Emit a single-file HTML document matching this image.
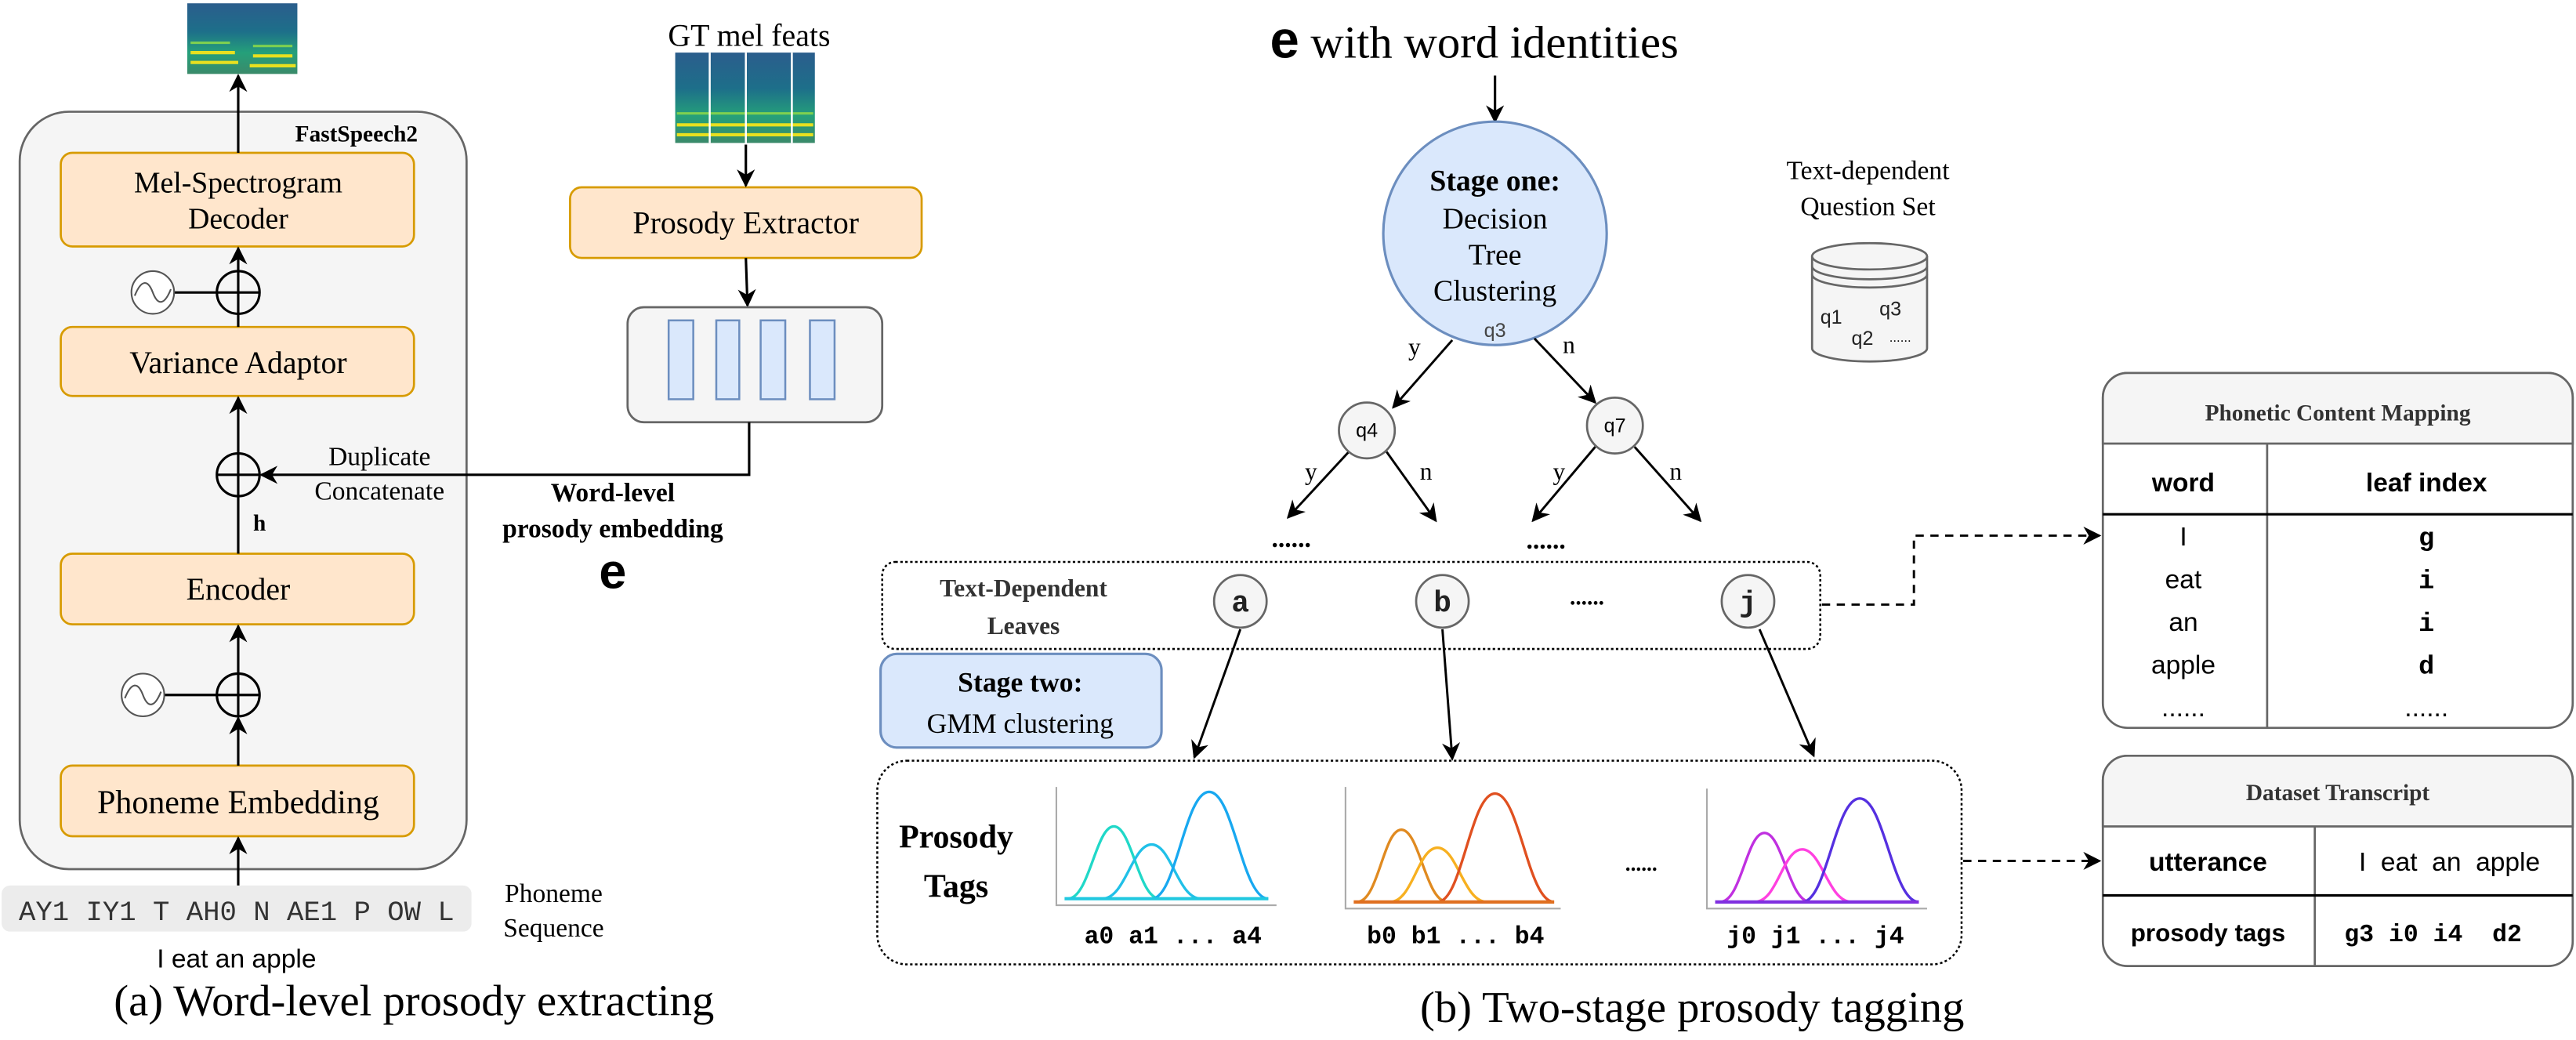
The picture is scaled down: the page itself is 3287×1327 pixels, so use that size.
<!DOCTYPE html>
<html><head><meta charset="utf-8"><style>
html,body{margin:0;padding:0;background:#fff;}
svg{display:block;}
.serif{font-family:"Liberation Serif",serif;}
.sans{font-family:"Liberation Sans",sans-serif;}
.mono{font-family:"Liberation Mono",monospace;}
</style></head><body>
<svg width="3287" height="1327" viewBox="0 0 1568 633" xmlns="http://www.w3.org/2000/svg">
<defs>
<marker id="ah2" viewBox="0 0 10 10" refX="9" refY="5" markerWidth="11" markerHeight="11" orient="auto" markerUnits="userSpaceOnUse">
<path d="M0,0 L10,5 L0,10 L3,5 Z" fill="#000"/></marker>
<linearGradient id="spec" x1="0" y1="0" x2="0" y2="1">
<stop offset="0" stop-color="#2b5d8c"/><stop offset="0.4" stop-color="#1d6f8a"/><stop offset="0.7" stop-color="#25a07a"/><stop offset="1" stop-color="#3a8a6a"/></linearGradient>
</defs>

<!-- ===== Part (a) ===== -->
<rect x="114" y="2" width="67" height="43" fill="url(#spec)"/>
<g stroke="#e8e020" stroke-width="2"><line x1="116" y1="38" x2="145" y2="38"/><line x1="116" y1="32" x2="143" y2="32"/><line x1="152" y1="40" x2="180" y2="40"/><line x1="154" y1="34" x2="178" y2="34"/></g>
<g stroke="#7ed050" stroke-width="1.5"><line x1="116" y1="26" x2="140" y2="26"/><line x1="154" y1="28" x2="178" y2="28"/></g>

<rect x="12" y="68" width="272" height="461" rx="30" fill="#f5f5f5" stroke="#666" stroke-width="1.3"/>
<text x="217" y="86" class="serif" font-size="14" font-weight="bold" text-anchor="middle">FastSpeech2</text>

<g fill="#ffe6cc" stroke="#d79b00" stroke-width="1.3">
<rect x="37" y="93" width="215" height="57" rx="7"/>
<rect x="37" y="199" width="215" height="42" rx="7"/>
<rect x="37" y="337" width="215" height="43" rx="7"/>
<rect x="37" y="466" width="215" height="43" rx="7"/>
</g>
<g class="serif" font-size="18" text-anchor="middle">
<text x="145" y="117">Mel-Spectrogram</text>
<text x="145" y="139">Decoder</text>
<text x="145" y="227" font-size="19">Variance Adaptor</text>
<text x="145" y="365" font-size="19">Encoder</text>
<text x="145" y="495" font-size="20">Phoneme Embedding</text>
</g>

<g stroke="#000" stroke-width="1.5" fill="none">
<line x1="145" y1="93" x2="145" y2="46" marker-end="url(#ah2)"/>
<line x1="145" y1="199" x2="145" y2="151" marker-end="url(#ah2)"/>
<line x1="145" y1="337" x2="145" y2="242" marker-end="url(#ah2)"/>
<line x1="145" y1="410" x2="145" y2="381" marker-end="url(#ah2)"/>
<line x1="145" y1="466" x2="145" y2="437" marker-end="url(#ah2)"/>
<line x1="145" y1="539" x2="145" y2="510" marker-end="url(#ah2)"/>
<circle cx="145" cy="178" r="13"/><line x1="132" y1="178" x2="158" y2="178"/>
<circle cx="145" cy="289" r="13"/><line x1="132" y1="289" x2="158" y2="289"/>
<circle cx="145" cy="423" r="13"/><line x1="132" y1="423" x2="158" y2="423"/><line x1="145" y1="410" x2="145" y2="436"/>
<line x1="106" y1="178" x2="132" y2="178"/>
<line x1="100" y1="423" x2="132" y2="423"/>
</g>
<g stroke="#555" stroke-width="1" fill="#fff">
<circle cx="93" cy="178" r="13"/><circle cx="87" cy="423" r="13"/>
</g>
<g stroke="#555" stroke-width="1" fill="none">
<path d="M82,180 C86,170 90,170 93,178 C96,186 100,186 104,176"/>
<path d="M76,425 C80,415 84,415 87,423 C90,431 94,431 98,421"/>
</g>

<rect x="1" y="539" width="286" height="28" rx="5" fill="#ececec"/>
<text x="144" y="560" class="mono" font-size="17" fill="#333" text-anchor="middle">AY1 IY1 T AH0 N AE1 P OW L</text>
<text x="144" y="589" class="sans" font-size="16" text-anchor="middle">I eat an apple</text>
<text x="337" y="549" class="serif" font-size="16" text-anchor="middle">Phoneme</text>
<text x="337" y="570" class="serif" font-size="16" text-anchor="middle">Sequence</text>
<text x="252" y="618" class="serif" font-size="27" text-anchor="middle">(a) Word-level prosody extracting</text>

<text x="456" y="28" class="serif" font-size="19" text-anchor="middle">GT mel feats</text>
<rect x="411" y="32" width="85" height="55" fill="url(#spec)"/>
<g stroke="#e8e020" stroke-width="2"><line x1="412" y1="82" x2="495" y2="82"/><line x1="412" y1="76" x2="495" y2="76"/></g>
<g stroke="#7ed050" stroke-width="1.5"><line x1="412" y1="69" x2="495" y2="69"/></g>
<g stroke="#fff" stroke-width="1.2"><line x1="432" y1="32" x2="432" y2="87"/><line x1="454" y1="32" x2="454" y2="87"/><line x1="482" y1="32" x2="482" y2="87"/></g>

<rect x="347" y="114" width="214" height="43" rx="7" fill="#ffe6cc" stroke="#d79b00" stroke-width="1.3"/>
<text x="454" y="142" class="serif" font-size="19" text-anchor="middle">Prosody Extractor</text>
<g stroke="#000" stroke-width="1.5" fill="none">
<line x1="454" y1="88" x2="454" y2="113" marker-end="url(#ah2)"/>
<line x1="454" y1="157" x2="455" y2="186" marker-end="url(#ah2)"/>
</g>
<rect x="382" y="187" width="155" height="70" rx="10" fill="#f5f5f5" stroke="#666" stroke-width="1.3"/>
<g fill="#dae8fc" stroke="#6c8ebf" stroke-width="1.2">
<rect x="407" y="195" width="15" height="48"/><rect x="436" y="195" width="14" height="48"/>
<rect x="463" y="195" width="15" height="48"/><rect x="493" y="195" width="15" height="48"/>
</g>
<polyline points="456,257 456,289 159,289" fill="none" stroke="#000" stroke-width="1.5" marker-end="url(#ah2)"/>
<text x="231" y="283" class="serif" font-size="16" text-anchor="middle">Duplicate</text>
<text x="231" y="304" class="serif" font-size="16" text-anchor="middle">Concatenate</text>
<text x="158" y="323" class="serif" font-size="14" font-weight="bold" text-anchor="middle">h</text>
<text x="373" y="305" class="serif" font-size="16" font-weight="bold" text-anchor="middle">Word-level</text>
<text x="373" y="327" class="serif" font-size="16" font-weight="bold" text-anchor="middle">prosody embedding</text>
<text x="373" y="358" class="sans" font-size="30" font-weight="bold" text-anchor="middle">e</text>

<!-- ===== Part (b) ===== -->
<text x="773" y="35" class="serif" font-size="28"><tspan font-family="Liberation Sans" font-weight="bold" font-size="32">e</tspan> with word identities</text>
<line x1="910" y1="46" x2="910" y2="74" stroke="#000" stroke-width="1.5" marker-end="url(#ah2)"/>
<circle cx="910" cy="142" r="68" fill="#dae8fc" stroke="#6c8ebf" stroke-width="1.5"/>
<g class="serif" font-size="18" text-anchor="middle">
<text x="910" y="116" font-weight="bold">Stage one:</text>
<text x="910" y="139">Decision</text>
<text x="910" y="161">Tree</text>
<text x="910" y="183">Clustering</text>
</g>
<text x="910" y="205" class="sans" font-size="12" fill="#444" text-anchor="middle">q3</text>

<g stroke="#000" stroke-width="1.4" fill="none">
<line x1="884" y1="207" x2="848" y2="248" marker-end="url(#ah2)"/>
<line x1="934" y1="206" x2="971" y2="245" marker-end="url(#ah2)"/>
<line x1="821" y1="275" x2="784" y2="315" marker-end="url(#ah2)"/>
<line x1="844" y1="275" x2="874" y2="317" marker-end="url(#ah2)"/>
<line x1="971" y1="272" x2="933" y2="317" marker-end="url(#ah2)"/>
<line x1="995" y1="272" x2="1035" y2="317" marker-end="url(#ah2)"/>
</g>
<g class="serif" font-size="15" text-anchor="middle">
<text x="861" y="216">y</text><text x="955" y="215">n</text>
<text x="798" y="292">y</text><text x="868" y="292">n</text>
<text x="949" y="292">y</text><text x="1020" y="292">n</text>
</g>
<g fill="#f5f5f5" stroke="#666" stroke-width="1.3">
<circle cx="832" cy="262" r="17"/><circle cx="983" cy="259" r="17"/>
</g>
<text x="832" y="266" class="sans" font-size="12" text-anchor="middle">q4</text>
<text x="983" y="263" class="sans" font-size="12" text-anchor="middle">q7</text>
<text x="786" y="333" class="serif" font-size="16" font-weight="bold" text-anchor="middle">......</text>
<text x="941" y="334" class="serif" font-size="16" font-weight="bold" text-anchor="middle">......</text>

<text x="1137" y="109" class="serif" font-size="16" text-anchor="middle">Text-dependent</text>
<text x="1137" y="131" class="serif" font-size="16" text-anchor="middle">Question Set</text>
<path d="M1103,156 L1103,212 A35,8 0 0 0 1173,212 L1173,156" fill="#f5f5f5" stroke="#666" stroke-width="1.3"/>
<ellipse cx="1138" cy="156" rx="35" ry="8" fill="#f5f5f5" stroke="#666" stroke-width="1.3"/>
<path d="M1103,162 A35,8 0 0 0 1173,162 M1103,167 A35,8 0 0 0 1173,167" fill="none" stroke="#666" stroke-width="1.3"/>
<g class="sans" font-size="12" fill="#222">
<text x="1108" y="197">q1</text><text x="1144" y="192">q3</text><text x="1127" y="210">q2</text>
</g>
<text x="1150" y="208" class="sans" font-size="8">......</text>

<rect x="537" y="342" width="571" height="53" rx="8" fill="none" stroke="#000" stroke-width="1.2" stroke-dasharray="1.5,1.5"/>
<text x="623" y="363" class="serif" font-size="15" font-weight="bold" text-anchor="middle" fill="#333">Text-Dependent</text>
<text x="623" y="386" class="serif" font-size="15" font-weight="bold" text-anchor="middle" fill="#333">Leaves</text>
<g fill="#f5f5f5" stroke="#666" stroke-width="1.3">
<circle cx="755" cy="366" r="16"/><circle cx="878" cy="366" r="16"/><circle cx="1064" cy="366" r="16"/>
</g>
<g class="mono" font-size="18" font-weight="bold" text-anchor="middle" fill="#222">
<text x="755" y="372">a</text><text x="878" y="372">b</text><text x="1064" y="372">j</text>
</g>
<text x="966" y="368" class="serif" font-size="14" font-weight="bold" text-anchor="middle">......</text>

<rect x="536" y="398" width="171" height="57" rx="10" fill="#dae8fc" stroke="#6c8ebf" stroke-width="1.5"/>
<text x="621" y="421" class="serif" font-size="17" font-weight="bold" text-anchor="middle">Stage two:</text>
<text x="621" y="446" class="serif" font-size="17" text-anchor="middle">GMM clustering</text>

<g stroke="#000" stroke-width="1.4" fill="none">
<line x1="755" y1="383" x2="727" y2="461" marker-end="url(#ah2)"/>
<line x1="878" y1="383" x2="884" y2="462" marker-end="url(#ah2)"/>
<line x1="1071" y1="383" x2="1104" y2="460" marker-end="url(#ah2)"/>
</g>

<rect x="534" y="463" width="660" height="124" rx="18" fill="none" stroke="#000" stroke-width="1.2" stroke-dasharray="1.5,1.5"/>
<text x="582" y="516" class="serif" font-size="20" font-weight="bold" text-anchor="middle">Prosody</text>
<text x="582" y="546" class="serif" font-size="20" font-weight="bold" text-anchor="middle">Tags</text>

<g fill="none" stroke-width="1.6">
<polyline points="643,479 643,551 777,551" stroke="#aaa" stroke-width="1"/>
<path d="M650,547 C663,547 667,503 678,503 C689,503 693,547 706,547" stroke="#20d8c8"/>
<path d="M671,547 C685,547 689,514 701,514 C713,514 717,547 731,547" stroke="#20c0e8"/>
<path d="M701,547 C716,547 721,482 736,482 C751,482 756,547 772,547" stroke="#18a8f0"/>
<line x1="648" y1="547" x2="772" y2="547" stroke="#20c8e0" stroke-width="2"/>
</g>
<g fill="none" stroke-width="1.6">
<polyline points="819,479 819,553 950,553" stroke="#aaa" stroke-width="1"/>
<path d="M826,549 C839,549 842,505 853,505 C864,505 868,549 881,549" stroke="#e08a20"/>
<path d="M846,549 C860,549 863,516 875,516 C887,516 891,549 905,549" stroke="#f7b020"/>
<path d="M875,549 C890,549 895,483 910,483 C925,483 930,549 946,549" stroke="#e05020"/>
<line x1="824" y1="549" x2="946" y2="549" stroke="#e07020" stroke-width="2"/>
</g>
<text x="999" y="530" class="serif" font-size="13" font-weight="bold" text-anchor="middle">......</text>
<g fill="none" stroke-width="1.6">
<polyline points="1039,480 1039,553 1173,553" stroke="#aaa" stroke-width="1"/>
<path d="M1047,549 C1060,549 1063,507 1074,507 C1085,507 1089,549 1102,549" stroke="#c030e0"/>
<path d="M1068,549 C1082,549 1085,517 1097,517 C1109,517 1113,549 1127,549" stroke="#ff40e0"/>
<path d="M1097,549 C1112,549 1117,486 1132,486 C1147,486 1152,549 1168,549" stroke="#5530e0"/>
<line x1="1044" y1="549" x2="1168" y2="549" stroke="#8030e0" stroke-width="2"/>
</g>
<g class="mono" font-size="15" font-weight="bold" text-anchor="middle">
<text x="714" y="574">a0 a1 ... a4</text>
<text x="886" y="574">b0 b1 ... b4</text>
<text x="1105" y="574">j0 j1 ... j4</text>
</g>
<text x="1030" y="622" class="serif" font-size="27" text-anchor="middle">(b) Two-stage prosody tagging</text>

<g stroke="#000" stroke-width="1.4" fill="none" stroke-dasharray="5,4">
<polyline points="1109,368 1165,368 1165,326 1278,326" marker-end="url(#ah2)"/>
<line x1="1195" y1="524" x2="1278" y2="524" marker-end="url(#ah2)"/>
</g>

<rect x="1280" y="227" width="286" height="216" rx="15" fill="#fff" stroke="#666" stroke-width="1.3"/>
<path d="M1280,270 L1280,242 A15,15 0 0 1 1295,227 L1551,227 A15,15 0 0 1 1566,242 L1566,270 Z" fill="#f5f5f5" stroke="#666" stroke-width="1.3"/>
<text x="1423" y="256" class="serif" font-size="14" font-weight="bold" fill="#333" text-anchor="middle">Phonetic Content Mapping</text>
<line x1="1380" y1="270" x2="1380" y2="443" stroke="#666" stroke-width="1.3"/>
<line x1="1280" y1="313" x2="1566" y2="313" stroke="#000" stroke-width="1.5"/>
<text x="1329" y="299" class="sans" font-size="16" font-weight="bold" text-anchor="middle">word</text>
<text x="1477" y="299" class="sans" font-size="16" font-weight="bold" text-anchor="middle">leaf index</text>
<g class="sans" font-size="16" text-anchor="middle">
<text x="1329" y="332">I</text><text x="1329" y="358">eat</text><text x="1329" y="384">an</text><text x="1329" y="410">apple</text><text x="1329" y="436">......</text>
</g>
<g class="mono" font-size="16" font-weight="bold" text-anchor="middle">
<text x="1477" y="332">g</text><text x="1477" y="358">i</text><text x="1477" y="384">i</text><text x="1477" y="410">d</text>
</g>
<text x="1477" y="436" class="sans" font-size="16" text-anchor="middle">......</text>

<rect x="1280" y="460" width="286" height="128" rx="15" fill="#fff" stroke="#666" stroke-width="1.3"/>
<path d="M1280,503 L1280,475 A15,15 0 0 1 1295,460 L1551,460 A15,15 0 0 1 1566,475 L1566,503 Z" fill="#f5f5f5" stroke="#666" stroke-width="1.3"/>
<text x="1423" y="487" class="serif" font-size="14" font-weight="bold" fill="#333" text-anchor="middle">Dataset Transcript</text>
<line x1="1409" y1="503" x2="1409" y2="588" stroke="#666" stroke-width="1.3"/>
<line x1="1280" y1="545" x2="1566" y2="545" stroke="#000" stroke-width="1.5"/>
<text x="1344" y="530" class="sans" font-size="16" font-weight="bold" text-anchor="middle">utterance</text>
<text x="1491" y="530" class="sans" font-size="16" text-anchor="middle" xml:space="preserve">I  eat  an  apple</text>
<text x="1344" y="573" class="sans" font-size="15" font-weight="bold" text-anchor="middle">prosody tags</text>
<text x="1481" y="573" class="mono" font-size="15" font-weight="bold" text-anchor="middle" xml:space="preserve">g3 i0 i4  d2</text>
</svg>
</body></html>
